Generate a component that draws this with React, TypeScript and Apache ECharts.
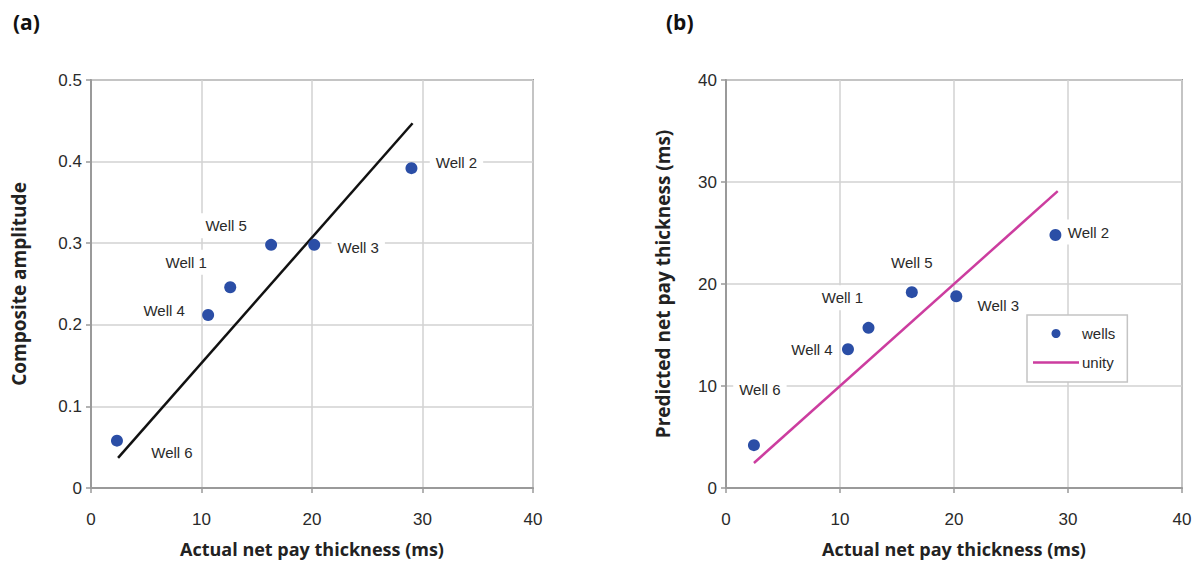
import React, { useEffect, useRef } from "react";
import * as echarts from "echarts";

const wellNames = ["Well 6", "Well 4", "Well 1", "Well 5", "Well 3", "Well 2"];
const actualA = [2.35, 10.6, 12.6, 16.3, 20.2, 29.0];
const amplitude = [0.058, 0.212, 0.246, 0.298, 0.298, 0.392];
const fitLineX = [2.45, 29.1];
const fitLineY = [0.037, 0.447];

const actualB = [2.45, 10.7, 12.5, 16.3, 20.2, 28.9];
const predicted = [4.2, 13.6, 15.7, 19.2, 18.8, 24.8];
const unityX = [2.45, 29.1];
const unityY = [2.45, 29.1];

const xTicksMax = 40;
const yAMax = 0.5;
const yBMax = 40;

// label offsets (pixels, relative to point centre)
const labelOffsetsA: [number, number][] = [
  [55, 12], [-44, -5], [-44, -25], [-45, -19], [44, 3], [45, -6],
];
const labelOffsetsB: [number, number][] = [
  [6, -56], [-36, 0], [-26, -30], [0, -30], [42, 9], [33, -3],
];

const BLUE = "#2b4ea6";
const MAGENTA = "#cc3d9f";
const GRID = "#d2d2d2";
const FRAME = "#9a9a9a";
const TEXT = "#2a2a2a";

const lineIcon =
  "path://M0,0L0.01,0L0.01,0.01Z M0,3.3L46,3.3L46,5.7L0,5.7Z M45.99,9L46,9L46,8.99Z";

function makeAxisX(gridIndex: number) {
  return {
    type: "value",
    gridIndex,
    min: 0,
    max: xTicksMax,
    interval: 10,
    name: "Actual net pay thickness (ms)",
    nameLocation: "middle",
    nameGap: 52,
    nameMoveOverlap: false,
    nameTextStyle: { fontFamily: "Open Sans", fontWeight: "bold", fontSize: 18, color: "#222" },
    axisLine: { show: true, lineStyle: { color: FRAME, width: 2 } },
    axisTick: { show: true, length: 5, lineStyle: { color: FRAME, width: 1.5 } },
    axisLabel: { color: TEXT, fontSize: 17, fontFamily: "Liberation Sans", margin: 23 },
    splitLine: { show: true, lineStyle: { color: GRID, width: 1.5 } },
  };
}

function makeAxisY(gridIndex: number, max: number, interval: number, name: string, nameGap: number) {
  return {
    type: "value",
    gridIndex,
    min: 0,
    max,
    interval,
    name,
    nameLocation: "middle",
    nameGap,
    nameMoveOverlap: false,
    nameTextStyle: { fontFamily: "Open Sans", fontWeight: "bold", fontSize: 19, color: "#222" },
    axisLine: { show: true, lineStyle: { color: FRAME, width: 2 } },
    axisTick: { show: true, length: 5, lineStyle: { color: FRAME, width: 1.5 } },
    axisLabel: { color: TEXT, fontSize: 17, fontFamily: "Liberation Sans", margin: 9 },
    splitLine: { show: true, lineStyle: { color: GRID, width: 1.5 } },
  };
}

function pointData(xs: number[], ys: number[], offsets: [number, number][]) {
  return xs.map((x, i) => ({
    value: [x, ys[i]],
    name: wellNames[i],
    label: { offset: offsets[i] },
  }));
}

const labelStyle = {
  show: true,
  position: "inside",
  formatter: "{b}",
  color: TEXT,
  fontSize: 15,
  fontFamily: "Liberation Sans",
  backgroundColor: "#fff",
  padding: [5, 6],
};

export default function App() {
  const ref = useRef<HTMLDivElement>(null);
  useEffect(() => {
    if (!ref.current) return;
    const chart = echarts.init(ref.current, null, { renderer: "svg" });
    chart.setOption({
      animation: false,
      backgroundColor: "#fff",
      title: [
        { text: "(a)", left: 8, top: 6, textStyle: { fontFamily: "Open Sans", fontWeight: "bold", fontSize: 21, color: "#111" } },
        { text: "(b)", left: 661, top: 6, textStyle: { fontFamily: "Open Sans", fontWeight: "bold", fontSize: 21, color: "#111" } },
      ],
      grid: [
        { left: 91, top: 80, width: 442, height: 408, show: true, borderColor: FRAME, borderWidth: 2, backgroundColor: "transparent" },
        { left: 726, top: 80, width: 456, height: 408, show: true, borderColor: FRAME, borderWidth: 2, backgroundColor: "transparent" },
      ],
      xAxis: [makeAxisX(0), makeAxisX(1)],
      yAxis: [
        makeAxisY(0, yAMax, 0.1, "Composite amplitude", 63),
        makeAxisY(1, yBMax, 10, "Predicted net pay thickness (ms)", 54),
      ],
      legend: {
        orient: "vertical",
        left: 1027,
        top: 315,
        width: 105,
        padding: [11, 12, 12, 6],
        itemGap: 14,
        itemWidth: 46,
        itemHeight: 9,
        borderColor: "#c4c4c4",
        borderWidth: 1.5,
        backgroundColor: "#fff",
        textStyle: { color: TEXT, fontSize: 15, fontFamily: "Liberation Sans", padding: [0, 0, 0, -2] },
        data: [
          { name: "wells", icon: "circle" },
          { name: "unity", icon: lineIcon },
        ],
      },
      series: [
        {
          type: "line",
          xAxisIndex: 0,
          yAxisIndex: 0,
          symbol: "none",
          lineStyle: { color: "#111", width: 2.5 },
          data: fitLineX.map((x, i) => [x, fitLineY[i]]),
          z: 2,
        },
        {
          type: "scatter",
          xAxisIndex: 0,
          yAxisIndex: 0,
          symbolSize: 12,
          itemStyle: { color: BLUE, opacity: 1 },
          label: labelStyle,
          data: pointData(actualA, amplitude, labelOffsetsA),
          z: 3,
        },
        {
          name: "unity",
          type: "line",
          xAxisIndex: 1,
          yAxisIndex: 1,
          symbol: "none",
          lineStyle: { color: MAGENTA, width: 2.5 },
          itemStyle: { color: MAGENTA },
          data: unityX.map((x, i) => [x, unityY[i]]),
          z: 2,
        },
        {
          name: "wells",
          type: "scatter",
          xAxisIndex: 1,
          yAxisIndex: 1,
          symbolSize: 12,
          itemStyle: { color: BLUE, opacity: 1 },
          label: labelStyle,
          data: pointData(actualB, predicted, labelOffsetsB),
          z: 3,
        },
      ],
    });
    return () => chart.dispose();
  }, []);
  return (
    <div
      ref={ref}
      style={{ position: "fixed", left: 0, top: 0, width: 1200, height: 564, background: "#fff" }}
    />
  );
}
